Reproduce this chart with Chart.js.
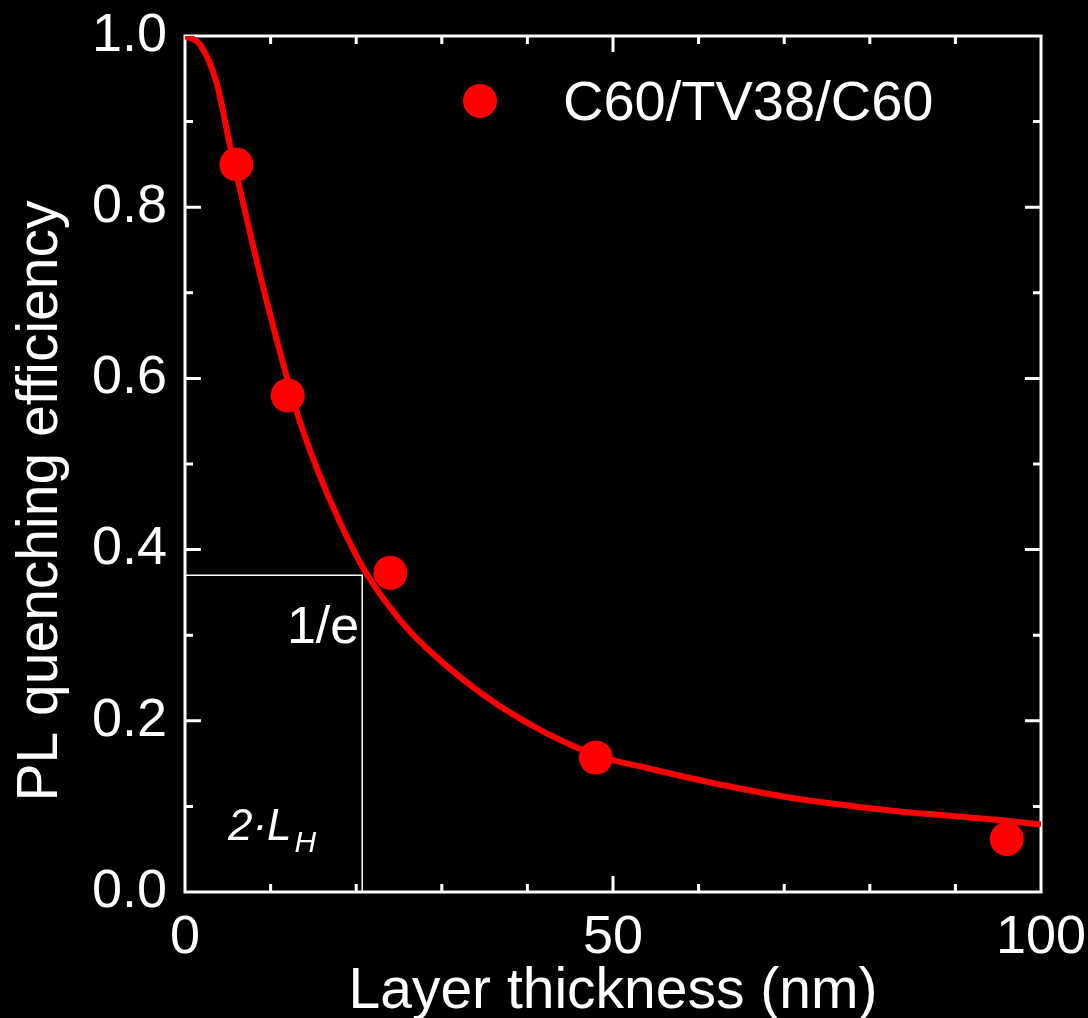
<!DOCTYPE html>
<html>
<head>
<meta charset="utf-8">
<title>PL quenching efficiency</title>
<script src="https://cdn.jsdelivr.net/npm/chart.js@4.4.1/dist/chart.umd.min.js"></script>
<style>
  html, body { margin: 0; padding: 0; background: #000; }
  canvas { display: block; }
</style>
</head>
<body>
<canvas id="chart-canvas" width="1088" height="1018"></canvas>
<script>
// measured samples (layer thickness in nm, PL quenching efficiency)
const thickness = [6, 12, 24, 48, 96];
const quenching = [0.85, 0.58, 0.373, 0.157, 0.062];

// diffusion model fit
const fitThickness = [0, 1.75, 3.7, 5.3, 7.6, 9.5, 13, 15.4, 18.1, 21.2, 25.1, 28.2, 36.8, 47.9, 53.5, 61.8, 70.2, 78.5, 86.9, 95.2, 100];
const fitQuenching = [1.0, 0.99, 0.945, 0.870, 0.770, 0.692, 0.563, 0.495, 0.432, 0.372, 0.318, 0.285, 0.217, 0.160, 0.146, 0.127, 0.111, 0.0997, 0.091, 0.084, 0.079];

const seriesLabel = 'C60/TV38/C60';
const xTickValues = [0, 50, 100];
const yTickValues = [0, 0.2, 0.4, 0.6, 0.8, 1.0];

// 1/e level and the thickness (2·L_H) where the fit drops to it
const decayLevel = 0.37;
const decayThickness = 20.7;

const FONT = "'Liberation Sans', Arial, sans-serif";
const RED = '#ff0000';
const WHITE = '#ffffff';

Chart.defaults.font.family = FONT;
Chart.defaults.color = WHITE;

// box around the plot with inward major/minor ticks on all four sides
const frameAndTicks = {
  id: 'frameAndTicks',
  beforeDatasetsDraw(chart) {
    const { ctx, chartArea: a, scales: { x, y } } = chart;
    ctx.save();
    ctx.strokeStyle = WHITE;

    // 1/e guide lines
    ctx.lineWidth = 1.5;
    const gx = x.getPixelForValue(decayThickness);
    const gy = y.getPixelForValue(decayLevel);
    ctx.beginPath();
    ctx.moveTo(a.left, gy);
    ctx.lineTo(gx, gy);
    ctx.lineTo(gx, a.bottom);
    ctx.stroke();

    ctx.lineWidth = 3;
    ctx.strokeRect(a.left, a.top, a.right - a.left, a.bottom - a.top);

    ctx.beginPath();
    for (let v = 10; v < 100; v += 10) {
      const px = x.getPixelForValue(v);
      const len = v % 50 === 0 ? 16 : 8;
      ctx.moveTo(px, a.bottom);
      ctx.lineTo(px, a.bottom - len);
      ctx.moveTo(px, a.top);
      ctx.lineTo(px, a.top + len);
    }
    for (let i = 1; i < 10; i++) {
      const py = y.getPixelForValue(i / 10);
      const len = i % 2 === 0 ? 16 : 8;
      ctx.moveTo(a.left, py);
      ctx.lineTo(a.left + len, py);
      ctx.moveTo(a.right, py);
      ctx.lineTo(a.right - len, py);
    }
    ctx.stroke();
    ctx.restore();
  },
  afterDraw(chart) {
    const { ctx, chartArea: a, scales: { x, y } } = chart;
    ctx.save();
    ctx.fillStyle = WHITE;

    // y axis title
    ctx.save();
    ctx.translate(57, (a.top + a.bottom) / 2 + 37);
    ctx.rotate(-Math.PI / 2);
    ctx.textAlign = 'center';
    ctx.textBaseline = 'alphabetic';
    ctx.font = `57px ${FONT}`;
    ctx.fillText('PL quenching efficiency', 0, 0);
    ctx.restore();

    // legend inside the plot
    const ds = chart.data.datasets[0];
    ctx.fillStyle = ds.backgroundColor;
    ctx.beginPath();
    ctx.arc(a.left + 295, a.top + 65, ds.pointRadius, 0, Math.PI * 2);
    ctx.fill();
    ctx.fillStyle = WHITE;
    ctx.font = `56px ${FONT}`;
    ctx.textAlign = 'left';
    ctx.textBaseline = 'alphabetic';
    ctx.fillText(ds.label, a.left + 378, a.top + 84);

    // 1/e and 2·L_H labels
    const gx = x.getPixelForValue(decayThickness);
    const gy = y.getPixelForValue(decayLevel);
    ctx.font = `52px ${FONT}`;
    ctx.textAlign = 'right';
    ctx.fillText('1/e', gx - 3, gy + 68);

    ctx.textAlign = 'left';
    ctx.font = `italic 44px ${FONT}`;
    const base = a.bottom - 52;
    const main = '2·L';
    ctx.fillText(main, a.left + 43, base);
    const w = ctx.measureText(main).width;
    ctx.font = `italic 30px ${FONT}`;
    ctx.fillText('H', a.left + 43 + w + 3, base + 12);
    ctx.restore();
  }
};

new Chart(document.getElementById('chart-canvas'), {
  type: 'scatter',
  data: {
    datasets: [
      {
        label: seriesLabel,
        data: thickness.map((t, i) => ({ x: t, y: quenching[i] })),
        backgroundColor: RED,
        borderWidth: 0,
        pointRadius: 17,
        pointHoverRadius: 17,
        order: 0,
      },
      {
        label: 'fit',
        data: fitThickness.map((t, i) => ({ x: t, y: fitQuenching[i] })),
        showLine: true,
        borderColor: RED,
        borderWidth: 6,
        pointRadius: 0,
        cubicInterpolationMode: 'monotone',
        order: 1,
      },
    ],
  },
  options: {
    responsive: false,
    animation: false,
    layout: { padding: { top: 36, right: 47, left: 0, bottom: 0 } },
    plugins: {
      legend: { display: false },
      tooltip: { enabled: false },
    },
    scales: {
      x: {
        type: 'linear',
        min: 0,
        max: 100,
        afterBuildTicks: (s) => { s.ticks = xTickValues.map(v => ({ value: v })); },
        afterFit: (s) => {
          s.height = 126;
          s.paddingLeft = 0;
          s.paddingRight = 0;
        },
        ticks: {
          color: WHITE,
          font: { size: 54 },
          padding: 6,
          maxRotation: 0,
          autoSkip: false,
          callback: (v) => String(v),
        },
        grid: { display: false },
        border: { display: false },
        title: {
          display: true,
          text: 'Layer thickness (nm)',
          color: WHITE,
          font: { size: 57, lineHeight: 0.9 },
          padding: { top: 0, bottom: 0 },
        },
      },
      y: {
        type: 'linear',
        min: 0,
        max: 1,
        afterBuildTicks: (s) => { s.ticks = yTickValues.map(v => ({ value: v })); },
        afterFit: (s) => {
          s.width = 185;
          s.paddingTop = 0;
          s.paddingBottom = 0;
        },
        ticks: {
          color: WHITE,
          font: { size: 54 },
          padding: 10,
          autoSkip: false,
          callback: (v) => v.toFixed(1),
        },
        grid: { display: false },
        border: { display: false },
      },
    },
  },
  plugins: [frameAndTicks],
});
</script>
</body>
</html>
